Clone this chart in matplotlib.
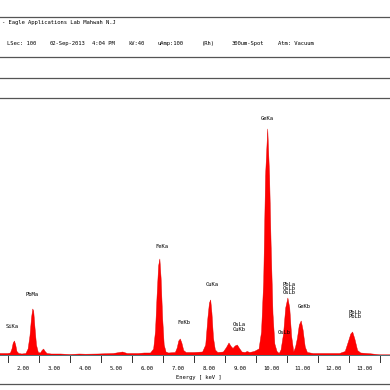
import matplotlib
matplotlib.use("Agg")
import matplotlib.pyplot as plt
from matplotlib.lines import Line2D

# spectrum vertices: energy [keV] and counts
energy = [1.24, 1.50, 1.58, 1.63, 1.67, 1.71, 1.75, 1.79, 1.85, 1.95,
          2.08, 2.15, 2.21, 2.26, 2.30, 2.33, 2.37, 2.42, 2.48, 2.55,
          2.60, 2.65, 2.70, 2.76, 2.90, 3.20, 3.50, 3.80, 4.00, 4.40,
          4.90, 5.10, 5.20, 5.35, 5.70, 5.90, 6.10, 6.20, 6.26, 6.31,
          6.36, 6.40, 6.44, 6.49, 6.54, 6.60, 6.68, 6.90, 6.96, 7.01,
          7.06, 7.11, 7.17, 7.25, 7.50, 7.78, 7.88, 7.95, 8.00, 8.04,
          8.08, 8.13, 8.19, 8.27, 8.45, 8.55, 8.63, 8.70, 8.76, 8.83,
          8.90, 8.97, 9.05, 9.15, 9.22, 9.30, 9.45, 9.60, 9.68, 9.75,
          9.81, 9.88, 9.94, 9.99, 10.05, 10.11, 10.18, 10.25, 10.31, 10.39,
          10.46, 10.53, 10.59, 10.65, 10.72, 10.78, 10.84, 10.90, 10.96, 11.02,
          11.09, 11.16, 11.35, 11.80, 12.20, 12.38, 12.48, 12.56, 12.62, 12.69,
          12.78, 12.88, 13.20, 13.50, 13.85]
counts = [25, 25, 30, 70, 130, 150, 110, 45, 25, 20,
          25, 70, 200, 380, 470, 450, 290, 110, 35, 30,
          55, 70, 45, 25, 20, 20, 15, 20, 18, 20,
          25, 35, 40, 25, 25, 30, 30, 70, 250, 600,
          900, 970, 780, 380, 110, 40, 30, 35, 80, 150,
          170, 130, 55, 35, 35, 40, 110, 380, 530, 560,
          430, 180, 60, 35, 40, 85, 130, 95, 75, 100,
          110, 75, 40, 35, 45, 35, 45, 70, 240, 750,
          1800, 2270, 1800, 1100, 420, 120, 45, 25, 60, 220,
          480, 580, 480, 200, 40, 90, 180, 310, 350, 260,
          90, 35, 25, 25, 25, 45, 140, 220, 240, 170,
          55, 30, 22, 12, 12]

# peak labels: text, energy, counts position
labels = ["SiKa", "PbMa", "FeKa", "FeKb", "CuKa", "OsLa", "CuKb", "GeKa",
          "PbLa", "OsLb", "OsLb", "GeKb", "OsLb", "PbLb", "PbLb"]
label_e = [1.62, 2.27, 6.46, 7.17, 8.08, 8.96, 8.96, 9.88,
           10.57, 10.57, 10.57, 11.07, 10.40, 12.71, 12.71]
label_c = [300, 610, 1100, 330, 720, 310, 265, 2370,
           715, 675, 635, 500, 240, 440, 400]

ticks = [1.5, 2.5, 3.5, 4.5, 5.5, 6.5, 7.5, 8.5, 9.5, 10.5, 11.5, 12.5, 13.5]
tick_labels = [2, 3, 4, 5, 6, 7, 8, 9, 10, 11, 12, 13]

header1 = "Eagle Applications Lab Mahwah N.J"
header2 = [("LSec: 100", 7), ("02-Sep-2013", 50), ("4:04 PM", 92), ("kV:40", 128),
           ("uAmp:100", 157), ("(Rh)", 202), ("300um-Spot", 232), ("Atm: Vacuum", 278)]

W = 390
fig = plt.figure(figsize=(3.9, 3.9), dpi=100)
mono = "DejaVu Sans Mono"
fs = 4.0

def fy(py):
    return 1 - py / W

ax = fig.add_axes([0, fy(356), 1, fy(100) - fy(356)])
ax.fill_between(energy, counts, 0, color="#ff0000", lw=0.3, edgecolor="#e00000")
ax.set_xlim(1.243, 13.824)
ax.set_ylim(0, 2560)
ax.axis("off")
ax.axhline(0, color="#3f7f86", lw=1.3)
for t in ticks:
    ax.plot([t, t], [0, -60], color="#333333", lw=0.7, clip_on=False)
for v in tick_labels:
    ax.text(v, -140, "%.2f" % v, ha="center", va="baseline", fontsize=fs, family=mono)
ax.text(7.64, -235, "Energy [ keV ]", ha="center", va="baseline", fontsize=fs, family=mono)

for s, e, c in zip(labels, label_e, label_c):
    ax.text(e, c, s, ha="center", va="center", fontsize=fs, family=mono, clip_on=False)

# frame lines of the report
for py in [17, 57, 78, 98, 384]:
    fig.add_artist(Line2D([0, 1], [fy(py), fy(py)], color="#555555", lw=0.9))

fig.text(2 / W, fy(24), "- " + header1, ha="left", va="baseline", fontsize=fs, family=mono)
for s, px in header2:
    fig.text(px / W, fy(45), s, ha="left", va="baseline", fontsize=fs, family=mono)

fig.savefig("out.png", dpi=100)
